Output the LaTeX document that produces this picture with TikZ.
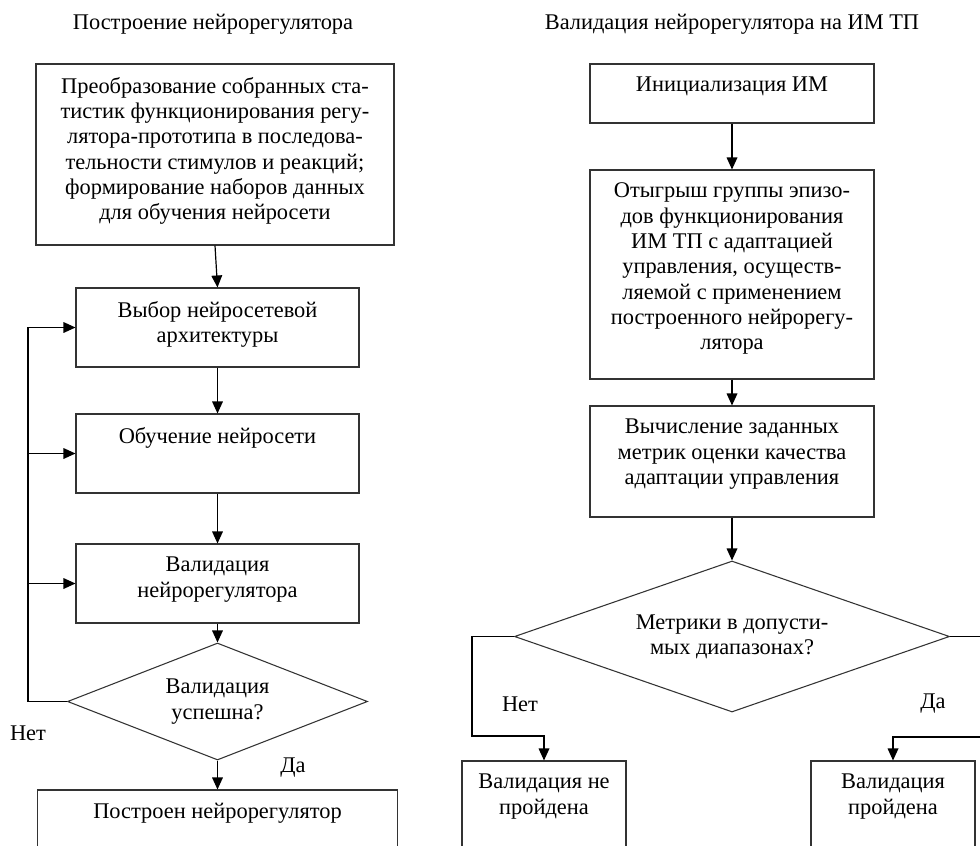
\documentclass[tikz,border=0pt]{standalone}
\usepackage{fontspec}
\setmainfont{Liberation Serif}
\usetikzlibrary{positioning,shapes.geometric,arrows.meta}

\newcommand{\fsz}{\fontsize{16.8pt}{19pt}\selectfont}
\tikzset{
  blok/.style={draw=black!80, line width=0.8pt, inner sep=0pt},
  romb/.style={diamond, draw=black!80, line width=0.8pt, inner sep=0pt, align=center, font=\fsz},
  txt/.style={align=center, inner sep=0pt, font=\fsz},
  arr/.style={line width=0.9pt, -{Triangle[length=9pt,width=8pt]}}
}

\begin{document}
\begin{tikzpicture}[x=0.75pt,y=-0.75pt]
\useasboundingbox (0,0) rectangle (980,845);
\fill[white] (0,0) rectangle (980,845);
\clip (0,0) rectangle (980,845);

% left column
\node[txt] (titleL) at (213,24) {Построение нейрорегулятора};
\node[blok, minimum width=268.5pt, minimum height=135.75pt] (preobr) at (215,154.5) {};
\node[txt, below=10pt of preobr.north] (preobr-t) {Преобразование собранных ста-\\тистик функционирования регу-\\лятора-прототипа в последова-\\тельности стимулов и реакций;\\формирование наборов данных\\для обучения нейросети};
\node[blok, minimum width=212.25pt, minimum height=59.25pt] (vybor) at (217.5,327.5) {};
\node[txt, below=10pt of vybor.north] (vybor-t) {Выбор нейросетевой\\архитектуры};
\node[blok, minimum width=212.25pt, minimum height=59.25pt] (obuch) at (217.5,453.5) {};
\node[txt, below=10pt of obuch.north] (obuch-t) {Обучение нейросети};
\node[blok, minimum width=212.25pt, minimum height=59.25pt] (valid) at (217.5,583.5) {};
\node[txt, below=10pt of valid.north] (valid-t) {Валидация\\нейрорегулятора};
\node[romb, minimum width=225pt, minimum height=87.75pt, aspect=2.56] (uspeh) at (217.5,701.5) {Валидация\\успешна?};
\node[blok, minimum width=270pt, minimum height=75pt] (gotov) at (217.5,840) {};
\node[txt, below=10pt of gotov.north] (gotov-t) {Построен нейрорегулятор};

\draw[arr] (preobr.south) -- (vybor.north);
\draw[arr] (vybor) -- (obuch);
\draw[arr] (obuch) -- (valid);
\draw[arr] (valid) -- (uspeh);
\draw[arr] (uspeh) -- (gotov);
\coordinate (obhodL) at (28,701.5);
\draw[arr] (uspeh.west) -- (obhodL) |- (vybor.west);
\draw[arr] (obhodL |- obuch.west) -- (obuch.west);
\draw[arr] (obhodL |- valid.west) -- (valid.west);
\node[txt] (netL) at (28,733) {Нет};
\node[txt] (daL) at (293,768) {Да};

% right column
\node[txt] (titleR) at (732,24) {Валидация нейрорегулятора на ИМ ТП};
\node[blok, minimum width=213pt, minimum height=44.25pt] (init) at (732,93.5) {};
\node[txt, below=10pt of init.north] (init-t) {Инициализация ИМ};
\node[blok, minimum width=213pt, minimum height=156.75pt] (otygr) at (732,274.5) {};
\node[txt, below=10pt of otygr.north] (otygr-t) {Отыгрыш группы эпизо-\\дов функционирования\\ИМ ТП с адаптацией\\управления, осуществ-\\ляемой с применением\\построенного нейрорегу-\\лятора};
\node[blok, minimum width=213pt, minimum height=83.25pt] (vych) at (732,461.5) {};
\node[txt, below=10pt of vych.north] (vych-t) {Вычисление заданных\\метрик оценки качества\\адаптации управления};
\node[romb, minimum width=326.25pt, minimum height=113.25pt, aspect=2.9] (metr) at (732,636.5) {Метрики в допусти-\\мых диапазонах?};
\node[blok, minimum width=123pt, minimum height=75pt] (neprosh) at (544,811) {};
\node[txt, below=10pt of neprosh.north] (neprosh-t) {Валидация не\\пройдена};
\node[blok, minimum width=123pt, minimum height=75pt] (prosh) at (893,811) {};
\node[txt, below=10pt of prosh.north] (prosh-t) {Валидация\\пройдена};

\draw[arr] (init) -- (otygr);
\draw[arr] (otygr) -- (vych);
\draw[arr] (vych) -- (metr);
\coordinate (obhodR1) at (472,736);
\draw[arr] (metr.west) -| (obhodR1) -| (neprosh.north);
\coordinate (obhodR2) at (990,737);
\draw[arr] (metr.east) -| (obhodR2) -| (prosh.north);
\node[txt] (netR) at (520,704) {Нет};
\node[txt] (daR) at (933,704) {Да};
\end{tikzpicture}
\end{document}
